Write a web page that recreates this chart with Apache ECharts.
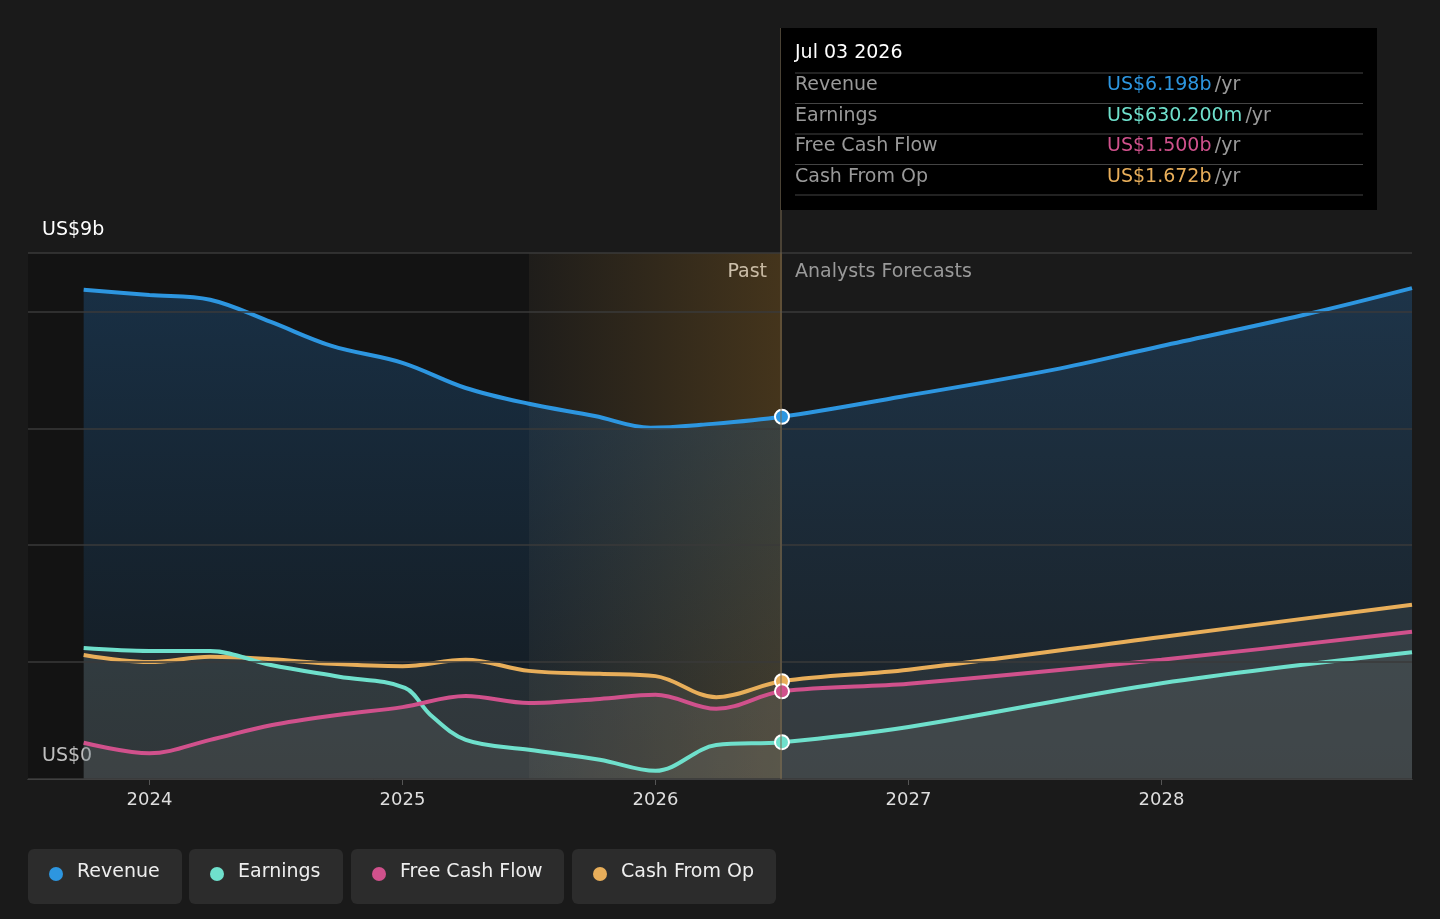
<!DOCTYPE html><html><head><meta charset="utf-8"><script src="https://cdn.jsdelivr.net/npm/echarts@6/dist/echarts.min.js"></script>
<style>html,body{margin:0;background:#1a1a1a}#c{width:1440px;height:919px}</style></head><body><div id="c"></div><script>
const revenue=[[2023.74,8.37],[2024,8.28],[2024.24,8.2],[2024.48,7.82],[2024.72,7.41],[2025,7.12],[2025.25,6.69],[2025.5,6.42],[2025.76,6.21],[2025.98,6.01],[2026.18,6.06],[2026.5,6.198],[2026.97,6.54],[2027.57,7.0],[2028,7.41],[2028.56,7.94],[2028.99,8.4]];
const earnings=[[2023.74,2.24],[2024,2.19],[2024.24,2.19],[2024.48,1.95],[2024.75,1.75],[2025.01,1.56],[2025.11,1.1],[2025.25,0.67],[2025.5,0.5],[2025.78,0.33],[2026,0.14],[2026.24,0.58],[2026.5,0.63],[2027,0.89],[2028,1.64],[2028.99,2.17]];
const fcf=[[2023.74,0.62],[2024,0.44],[2024.24,0.67],[2024.48,0.92],[2024.75,1.1],[2025,1.23],[2025.25,1.42],[2025.5,1.3],[2025.78,1.37],[2026,1.44],[2026.24,1.2],[2026.5,1.5],[2027,1.63],[2028,2.04],[2028.99,2.52]];
const cfo=[[2023.74,2.12],[2024,2.0],[2024.24,2.09],[2024.48,2.05],[2024.72,1.97],[2025,1.93],[2025.25,2.04],[2025.5,1.85],[2025.78,1.8],[2026,1.76],[2026.24,1.4],[2026.5,1.672],[2027,1.87],[2028,2.43],[2028.99,2.98]];
const years=[2024,2025,2026,2027,2028];
const cols={Revenue:'#2d96e0',Earnings:'#6fe0cc','Free Cash Flow':'#d0518c','Cash From Op':'#e8ae5a'};
const split=2026.5;
const F='19px DejaVu Sans';
function ln(name,data,area){return{type:'line',name,data,smooth:0.35,symbol:'none',lineStyle:{width:4,color:cols[name]},itemStyle:{color:cols[name]},
 areaStyle:area,z:3,markPoint:{symbol:'circle',symbolSize:14,itemStyle:{color:cols[name],borderColor:'#fff',borderWidth:2},label:{show:false},data:[{coord:data.find(d=>d[0]===split)}]}};}
const chart=echarts.init(document.getElementById('c'));
chart.setOption({backgroundColor:'#1a1a1a',animation:false,textStyle:{fontFamily:'DejaVu Sans',fontSize:18},
grid:{left:28,right:28,top:253,bottom:140},
xAxis:{type:'value',min:2023.52,max:2028.99,axisLine:{lineStyle:{color:'#555'}},axisTick:{show:true,customValues:years,length:6,lineStyle:{color:'#555'}},splitLine:{show:false},
 axisLabel:{customValues:years,color:'#ddd',fontSize:18,fontFamily:'DejaVu Sans',margin:12,formatter:v=>String(Math.round(v))}},
yAxis:{type:'value',min:0,max:9,interval:1,axisLabel:{show:false},axisTick:{show:false},axisLine:{show:false},splitLine:{show:false}},
series:[
 {type:'line',data:[],markArea:{silent:true,data:[[{xAxis:2023.52,itemStyle:{color:'rgba(0,0,0,0.25)'}},{xAxis:2025.5}],[{xAxis:2025.5,itemStyle:{color:{type:'linear',x:0,y:0,x2:1,y2:0,colorStops:[{offset:0,color:'rgba(120,85,30,0.05)'},{offset:1,color:'rgba(120,85,30,0.45)'}]}}},{xAxis:split}]]},
  markLine:{silent:true,symbol:'none',label:{show:false},data:[{yAxis:0},{yAxis:2},{yAxis:4},{yAxis:6},{yAxis:8},{yAxis:9}],lineStyle:{color:'#3a3a3a',type:'solid',width:1.5}}},
 ln('Revenue',revenue,{color:{type:'linear',x:0,y:0,x2:0,y2:1,colorStops:[{offset:0,color:'rgba(35,100,160,0.5)'},{offset:1,color:'rgba(30,90,140,0.15)'}]}}),
 ln('Cash From Op',cfo,{color:'rgba(140,150,140,0.18)'}),
 ln('Earnings',earnings,{color:'rgba(140,150,140,0.18)'}),
 ln('Free Cash Flow',fcf,{color:'rgba(140,140,140,0.18)'})
],
graphic:[
 {type:'line',shape:{x1:781,y1:28,x2:781,y2:779},style:{stroke:'#7a6a50',lineWidth:1},z:10},
 {type:'text',x:42,y:221,style:{text:'US$9b',fill:'#fff',font:F}},
 {type:'text',x:42,y:747,style:{text:'US$0',fill:'#fff',font:F}},
 {type:'text',x:767,y:263,style:{text:'Past',fill:'#fff',font:F,align:'right'}},
 {type:'text',x:795,y:263,style:{text:'Analysts Forecasts',fill:'#999',font:F}},
 {type:'rect',shape:{x:781,y:28,width:596,height:182},style:{fill:'#000'},z:20},
 {type:'text',x:795,y:44,style:{text:'Jul 03 2026',fill:'#fff',font:F},z:21},
 ...['Revenue','Earnings','Free Cash Flow','Cash From Op'].flatMap((n,i)=>{const v=['US$6.198b','US$630.200m','US$1.500b','US$1.672b'][i];const y=76+i*30.5;return[
  {type:'line',shape:{x1:795,y1:y-3,x2:1363,y2:y-3},style:{stroke:'#444',lineWidth:1},z:21},
  {type:'text',x:795,y:y,style:{text:n,fill:'#999',font:F},z:21},
  {type:'text',x:1107,y:y,style:{rich:{a:{fill:cols[n],font:F},b:{fill:'#999',font:F}},text:'{a|'+v+'} {b|/yr}'},z:21}];}),
 {type:'line',shape:{x1:795,y1:195,x2:1363,y2:195},style:{stroke:'#444',lineWidth:1},z:21},
 ...[['Revenue',28,154],['Earnings',189,154],['Free Cash Flow',351,213],['Cash From Op',572,204]].flatMap(([n,x,w])=>[
  {type:'rect',shape:{x,y:849,width:w,height:55,r:6},style:{fill:'#2c2c2c'}},
  {type:'circle',shape:{cx:x+28,cy:874,r:7},style:{fill:cols[n]}},
  {type:'text',x:x+49,y:863,style:{text:n,fill:'#eee',font:F}}])
]});
</script></body></html>
